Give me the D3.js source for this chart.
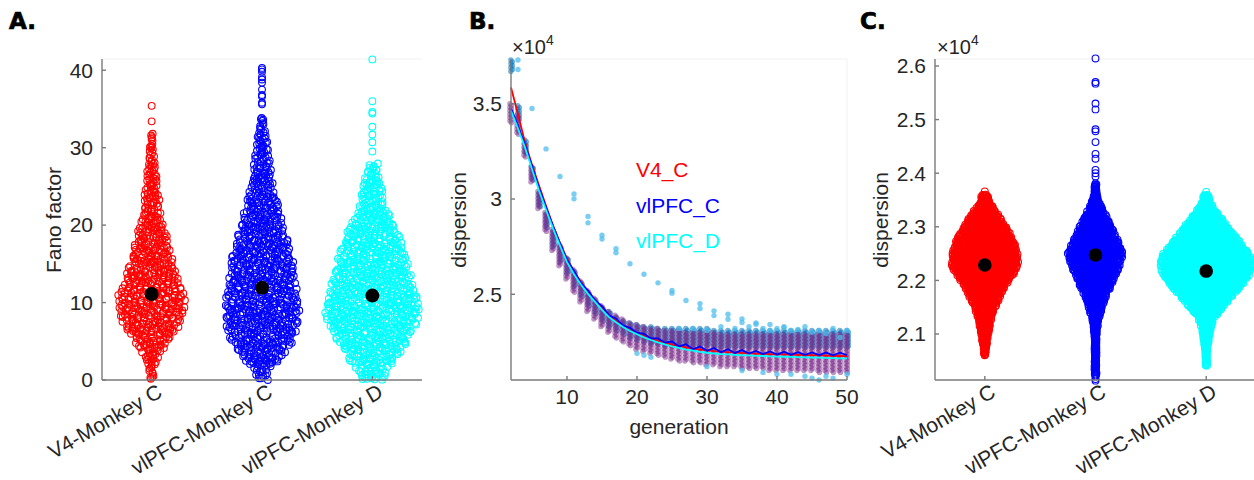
<!DOCTYPE html>
<html lang="en">
<head>
<meta charset="UTF-8">
<title>Fano factor and dispersion</title>
<script src="https://d3js.org/d3.v7.min.js"></script>
<style>
  body { margin: 0; padding: 0; background: #fff; }
  svg text { font-family: "Liberation Sans", Arial, sans-serif; fill: #262626; }
  .letter { font-family: "DejaVu Sans", sans-serif; font-weight: bold; font-size: 23px; fill: #000; stroke: #000; stroke-width: 0.7px; }
  .axis { stroke: #7a7a7a; stroke-width: 1.4px; fill: none; }
  .box { stroke: #f1f1f1; stroke-width: 1px; fill: none; }
</style>
</head>
<body>
<svg id="fig" width="1254" height="480"></svg>
<script>
// ---------------- data ----------------
const groups = ["V4-Monkey C", "vlPFC-Monkey C", "vlPFC-Monkey D"];
const groupColors = ["#ff0000", "#0000ff", "#00ffff"];

// A: Fano factor, point counts per 2-unit bin (first bin starts at 0)
const fanoBinStep = 2;
const fanoRedCounts  = [10, 20, 40, 62, 73, 73, 60, 50, 43, 35, 25, 22, 18, 15, 11, 8];
const fanoBlueCounts = [18, 48, 68, 78, 82, 77, 73, 70, 62, 53, 45, 38, 28, 25, 20, 17, 10];
const fanoCyanCounts = [33, 57, 77, 93, 103, 95, 85, 78, 70, 57, 43, 30, 25, 17];
const fanoRedOut  = [33.4, 35.4];
const fanoBlueOut = [35.6, 35.8, 36.6, 36.8, 37.5, 38.4, 38.8, 39.1, 39.8, 40.1, 40.3];
const fanoCyanOut = [29.5, 30.7, 31.7, 32.7, 34.4, 34.6, 36.0, 41.4];
const fanoMeans = [11.1, 11.9, 10.9];
const fanoTicks = [0, 10, 20, 30, 40];

// C: dispersion (x10^4), point counts per 0.02 bin
const dispBinStep = 0.02;
const dispRedStart = 2.06, dispBlueStart = 2.02, dispCyanStart = 2.04;
const dispRedCounts  = [20, 30, 38, 50, 68, 93, 118, 158, 183, 180, 163, 138, 105, 70, 33];
const dispBlueCounts = [14, 16, 18, 20, 24, 34, 50, 68, 93, 118, 138, 155, 133, 108, 83, 55, 30, 18];
const dispCyanCounts = [15, 20, 30, 38, 55, 100, 143, 193, 230, 250, 230, 188, 145, 105, 63, 30];
const dispRedOut  = [2.366];
const dispBlueOut = [2.013, 2.016, 2.381, 2.394, 2.400, 2.406, 2.427, 2.436, 2.458, 2.478, 2.482, 2.519, 2.530, 2.567, 2.570, 2.614];
const dispCyanOut = [2.365];
const dispMeans = [2.2286, 2.2473, 2.2174];
const dispTicks = [2.1, 2.2, 2.3, 2.4, 2.5, 2.6];

// B: dispersion (x10^4) per generation
const generations = [2,3,4,5,6,7,8,9,10,11,12,13,14,15,16,17,18,19,20,21,22,23,24,25,26,
  27,28,29,30,31,32,33,34,35,36,37,38,39,40,41,42,43,44,45,46,47,48,49,50];
const fitV4C = [3.585, 3.445, 3.297, 3.180, 3.071, 2.965, 2.861, 2.770, 2.687, 2.620, 2.564, 2.515,
  2.469, 2.430, 2.390, 2.360, 2.334, 2.310, 2.295, 2.280, 2.267, 2.255, 2.245, 2.236, 2.228, 2.221,
  2.215, 2.210, 2.206, 2.202, 2.199, 2.196, 2.194, 2.192, 2.190, 2.188, 2.187, 2.186, 2.185, 2.184,
  2.183, 2.182, 2.181, 2.180, 2.179, 2.178, 2.177, 2.176, 2.175];
const fitPfcC = [3.475, 3.385, 3.285, 3.172, 3.058, 2.956, 2.858, 2.768, 2.680, 2.622, 2.558, 2.520,
  2.468, 2.438, 2.390, 2.372, 2.337, 2.324, 2.298, 2.292, 2.268, 2.268, 2.246, 2.252, 2.226, 2.238,
  2.212, 2.226, 2.203, 2.218, 2.196, 2.212, 2.192, 2.207, 2.189, 2.203, 2.186, 2.200, 2.184, 2.198,
  2.183, 2.196, 2.182, 2.195, 2.181, 2.194, 2.180, 2.193, 2.180];
const fitPfcD = [3.463, 3.370, 3.271, 3.158, 3.045, 2.944, 2.846, 2.755, 2.669, 2.605, 2.550, 2.502,
  2.460, 2.418, 2.380, 2.353, 2.328, 2.307, 2.290, 2.274, 2.260, 2.248, 2.237, 2.227, 2.218, 2.210,
  2.204, 2.198, 2.193, 2.189, 2.186, 2.184, 2.182, 2.180, 2.179, 2.177, 2.176, 2.174, 2.173, 2.172,
  2.171, 2.170, 2.169, 2.168, 2.167, 2.166, 2.165, 2.164, 2.163];
const purpleHi = [3.50, 3.44, 3.29, 3.17, 3.04, 2.93, 2.84, 2.76, 2.69, 2.63, 2.57, 2.52, 2.48, 2.44,
  2.41, 2.39, 2.37, 2.35, 2.34, 2.33, 2.32, 2.32, 2.31, 2.31, 2.31, 2.30, 2.30, 2.30, 2.30, 2.30,
  2.29, 2.29, 2.29, 2.29, 2.29, 2.29, 2.29, 2.29, 2.29, 2.29, 2.29, 2.29, 2.29, 2.29, 2.29, 2.29,
  2.29, 2.29, 2.29];
const purpleLo = [3.40, 3.34, 3.22, 3.09, 2.95, 2.83, 2.73, 2.65, 2.58, 2.51, 2.46, 2.41, 2.37, 2.33,
  2.30, 2.27, 2.25, 2.23, 2.21, 2.20, 2.19, 2.18, 2.17, 2.16, 2.15, 2.15, 2.14, 2.14, 2.13, 2.13,
  2.12, 2.12, 2.12, 2.11, 2.11, 2.11, 2.11, 2.10, 2.10, 2.10, 2.10, 2.10, 2.10, 2.10, 2.09, 2.09,
  2.09, 2.09, 2.09];
const blueHi = [3.73, 3.49, 3.31, 3.17, 3.03, 2.92, 2.83, 2.75, 2.69, 2.62, 2.56, 2.51, 2.47, 2.43,
  2.41, 2.38, 2.36, 2.35, 2.34, 2.33, 2.33, 2.32, 2.32, 2.32, 2.32, 2.32, 2.32, 2.32, 2.32, 2.31,
  2.31, 2.31, 2.31, 2.31, 2.31, 2.31, 2.31, 2.31, 2.31, 2.31, 2.31, 2.31, 2.31, 2.31, 2.31, 2.31,
  2.31, 2.31, 2.31];
const blueLo = [3.67, 3.42, 3.24, 3.10, 2.96, 2.85, 2.75, 2.67, 2.61, 2.54, 2.49, 2.44, 2.40, 2.36,
  2.33, 2.31, 2.29, 2.27, 2.26, 2.25, 2.24, 2.24, 2.23, 2.23, 2.23, 2.23, 2.23, 2.23, 2.23, 2.22,
  2.22, 2.22, 2.22, 2.22, 2.22, 2.22, 2.22, 2.22, 2.22, 2.22, 2.22, 2.22, 2.22, 2.22, 2.22, 2.22,
  2.22, 2.22, 2.22];
// light blue single runs [generation, value]
const lightDots = [[3, 3.73], [3, 3.68], [5, 3.475], [7, 3.263], [9, 3.118], [11, 3.027], [11, 3.001],
  [13, 2.908], [13, 2.875], [15, 2.81], [15, 2.79], [17, 2.739], [17, 2.718], [19, 2.66], [21, 2.605],
  [23, 2.56], [25, 2.52], [25, 2.506], [27, 2.467], [29, 2.451], [29, 2.425], [31, 2.413], [31, 2.388],
  [33, 2.395], [33, 2.369], [35, 2.371], [35, 2.352], [37, 2.343], [39, 2.341], [41, 2.326], [43, 2.315],
  [45, 2.30], [47, 2.294], [49, 2.273],
  [20, 2.19], [21, 2.18], [22, 2.17], [30, 2.12], [35, 2.10], [38, 2.09], [40, 2.08], [42, 2.08],
  [44, 2.07], [45, 2.06], [46, 2.05], [47, 2.07], [48, 2.06], [50, 2.08],
  [26, 2.32], [28, 2.32], [30, 2.31], [32, 2.33], [34, 2.32], [36, 2.33], [37, 2.35], [38, 2.32],
  [39, 2.31], [40, 2.32], [41, 2.33], [42, 2.31], [44, 2.33], [46, 2.31], [48, 2.32], [50, 2.31]];
const genTicks = [10, 20, 30, 40, 50];
const dispBTicks = [2.5, 3, 3.5];
const legendNames = ["V4_C", "vlPFC_C", "vlPFC_D"];

// ---------------- drawing ----------------
const svg = d3.select("#fig");
const plotTop = 59, plotBottom = 380;
const fs = "21px";

// quasi-random (Halton) sequence, used only to spread points sideways in a bin
function halton(i, b) {
  let f = 1, r = 0;
  while (i > 0) { f /= b; r += f * (i % b); i = Math.floor(i / b); }
  return r;
}

// spread points of one group like a beeswarm, width follows bin counts
function swarm(g, x, y, cx, start, step, counts, outs, widthPerCount, color, seed) {
  function halfW(v) {
    let f = (v - start) / step - 0.5;
    let i0 = Math.floor(f), t = f - i0;
    let a = counts[Math.max(0, Math.min(counts.length - 1, i0))];
    let b = counts[Math.max(0, Math.min(counts.length - 1, i0 + 1))];
    let c = a + (b - a) * t;
    return Math.max(1, c * widthPerCount / 2 - 3);
  }
  let pts = [], k = seed;
  counts.forEach(function(n, i) {
    let lo = start + i * step;
    for (let j = 0; j < n; j++) {
      k++;
      let u = halton(k, 2), w = halton(k, 3);
      let v = lo + w * step;
      pts.push([x(cx) + (2 * u - 1) * halfW(v), y(v)]);
    }
  });
  outs.forEach(function(v) { pts.push([x(cx), y(v)]); });
  g.append("g").selectAll("circle")
    .data(pts).enter().append("circle")
    .attr("cx", d => d[0]).attr("cy", d => d[1])
    .attr("r", 3.4)
    .attr("fill", "none")
    .attr("stroke", color)
    .attr("stroke-width", 1.1);
}

function yAxis(g, y, x0, ticks, fmt) {
  g.append("line").attr("class", "axis").attr("x1", x0).attr("x2", x0).attr("y1", plotTop).attr("y2", plotBottom);
  ticks.forEach(function(t) {
    g.append("line").attr("class", "axis").attr("x1", x0).attr("x2", x0 + 4).attr("y1", y(t)).attr("y2", y(t));
    g.append("text").attr("x", x0 - 9).attr("y", y(t)).attr("dy", "0.35em")
      .attr("text-anchor", "end").style("font-size", fs).text(fmt(t));
  });
}

function categoryAxis(g, x, x0, x1) {
  g.append("line").attr("class", "axis").attr("x1", x0).attr("x2", x1).attr("y1", plotBottom).attr("y2", plotBottom);
  groups.forEach(function(name, i) {
    let cx = x(i + 1);
    g.append("line").attr("class", "axis").attr("x1", cx).attr("x2", cx).attr("y1", plotBottom).attr("y2", plotBottom - 4);
    g.append("text")
      .attr("transform", "translate(" + (cx + 12) + "," + 396 + ")rotate(-30)")
      .attr("text-anchor", "end").style("font-size", fs).text(name);
  });
}

function power10(x0) {
  let t = svg.append("text").attr("x", x0).attr("y", 54).style("font-size", "20px");
  t.append("tspan").text("\u00d710");
  t.append("tspan").attr("dy", -9).style("font-size", "14px").text("4");
}

// ---- panel A ----
const gA = svg.append("g");
const xA = d3.scaleLinear().domain([0.55, 3.45]).range([102, 422]);
const yA = d3.scaleLinear().domain([0, 41.45]).range([plotBottom, plotTop]);
gA.append("line").attr("class", "box").attr("x1", 102).attr("x2", 422).attr("y1", plotTop).attr("y2", plotTop);
swarm(gA, xA, yA, 1, 0, fanoBinStep, fanoRedCounts, fanoRedOut, 1, groupColors[0], 11);
swarm(gA, xA, yA, 2, 0, fanoBinStep, fanoBlueCounts, fanoBlueOut, 1, groupColors[1], 1200);
swarm(gA, xA, yA, 3, 0, fanoBinStep, fanoCyanCounts, fanoCyanOut, 1, groupColors[2], 2600);
gA.selectAll(".mean").data(fanoMeans).enter().append("circle")
  .attr("cx", (d, i) => xA(i + 1)).attr("cy", d => yA(d)).attr("r", 7).attr("fill", "#000");
yAxis(gA, yA, 102, fanoTicks, d => d);
categoryAxis(gA, xA, 102, 422);
gA.append("text").attr("transform", "translate(61,220)rotate(-90)")
  .attr("text-anchor", "middle").style("font-size", fs).text("Fano factor");
svg.append("text").attr("class", "letter").attr("x", 9).attr("y", 29).text("A.");

// ---- panel B ----
const gB = svg.append("g");
const xB = d3.scaleLinear().domain([2, 50]).range([511, 847]);
const yB = d3.scaleLinear().domain([2.05, 3.735]).range([plotBottom, plotTop]);
gB.append("path").attr("class", "box").attr("d", "M511," + plotTop + "H847V" + plotBottom);

function columns(hi, lo, color, opacity, dx) {
  let pts = [];
  generations.forEach(function(gen, i) {
    let y0 = yB(hi[i]), y1 = yB(lo[i]);
    let n = Math.max(3, Math.round((y1 - y0) / 1.8));
    for (let j = 0; j <= n; j++) {
      pts.push([xB(gen) + dx + (j % 2 ? 0.8 : -0.8), y0 + (y1 - y0) * j / n]);
    }
  });
  gB.append("g").selectAll("circle").data(pts).enter().append("circle")
    .attr("cx", d => d[0]).attr("cy", d => d[1]).attr("r", 2.7)
    .attr("fill", color).attr("fill-opacity", opacity);
}
columns(blueHi, blueLo, "#0072bd", 0.55, 0.6);
columns(purpleHi, purpleLo, "#7e2f8e", 0.5, -0.3);
gB.append("g").selectAll("circle").data(lightDots).enter().append("circle")
  .attr("cx", d => xB(d[0])).attr("cy", d => yB(d[1])).attr("r", 2.7)
  .attr("fill", "#4dbeee").attr("fill-opacity", 0.75);

const fits = [fitV4C, fitPfcC, fitPfcD];
fits.forEach(function(f, i) {
  gB.append("path")
    .datum(generations.map((gen, j) => [gen, f[j]]))
    .attr("fill", "none").attr("stroke", groupColors[i]).attr("stroke-width", 1.8)
    .attr("d", d3.line().x(d => xB(d[0])).y(d => yB(d[1])));
});

yAxis(gB, yB, 511, dispBTicks, d => d);
gB.append("line").attr("class", "axis").attr("x1", 511).attr("x2", 847).attr("y1", plotBottom).attr("y2", plotBottom);
genTicks.forEach(function(t) {
  gB.append("line").attr("class", "axis").attr("x1", xB(t)).attr("x2", xB(t)).attr("y1", plotBottom).attr("y2", plotBottom - 4);
  gB.append("text").attr("x", xB(t)).attr("y", 404).attr("text-anchor", "middle")
    .style("font-size", fs).text(t);
});
gB.append("text").attr("x", 679).attr("y", 434).attr("text-anchor", "middle")
  .style("font-size", fs).text("generation");
gB.append("text").attr("transform", "translate(466,220)rotate(-90)")
  .attr("text-anchor", "middle").style("font-size", fs).text("dispersion");
legendNames.forEach(function(name, i) {
  gB.append("text").attr("x", 636).attr("y", 177 + i * 35.5)
    .style("font-size", fs).style("fill", groupColors[i]).text(name);
});
power10(512);
svg.append("text").attr("class", "letter").attr("x", 469).attr("y", 29).text("B.");

// ---- panel C ----
const gC = svg.append("g");
const xC = d3.scaleLinear().domain([0.55, 3.45]).range([935, 1256]);
const yC = d3.scaleLinear().domain([2.0142, 2.613]).range([plotBottom, plotTop]);
gC.append("line").attr("class", "box").attr("x1", 935).attr("x2", 1254).attr("y1", plotTop).attr("y2", plotTop);
swarm(gC, xC, yC, 1, dispRedStart, dispBinStep, dispRedCounts, dispRedOut, 0.4, groupColors[0], 40);
swarm(gC, xC, yC, 2, dispBlueStart, dispBinStep, dispBlueCounts, dispBlueOut, 0.4, groupColors[1], 3000);
swarm(gC, xC, yC, 3, dispCyanStart, dispBinStep, dispCyanCounts, dispCyanOut, 0.4, groupColors[2], 6000);
gC.selectAll(".mean").data(dispMeans).enter().append("circle")
  .attr("cx", (d, i) => xC(i + 1)).attr("cy", d => yC(d)).attr("r", 6.8).attr("fill", "#000");
yAxis(gC, yC, 935, dispTicks, d => d.toFixed(1));
categoryAxis(gC, xC, 935, 1256);
gC.append("text").attr("transform", "translate(888,220)rotate(-90)")
  .attr("text-anchor", "middle").style("font-size", fs).text("dispersion");
power10(937);
svg.append("text").attr("class", "letter").attr("x", 860).attr("y", 29).text("C.");
</script>
</body>
</html>
